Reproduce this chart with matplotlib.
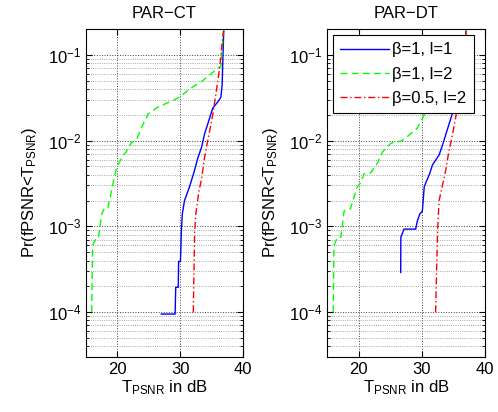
import matplotlib
matplotlib.use('Agg')
import matplotlib.pyplot as plt
from matplotlib.ticker import LogLocator, NullFormatter

plt.rcParams['font.family'] = ['Liberation Sans', 'DejaVu Sans']
plt.rcParams['mathtext.fontset'] = 'custom'
plt.rcParams['mathtext.rm'] = 'Liberation Sans'
plt.rcParams['mathtext.it'] = 'Liberation Sans:italic'

# ── data: PAR-CT ──────────────────────────────────────────────
ct_b1_x = [27.0, 29.2, 29.3, 29.7, 29.76, 30.05, 30.2, 30.35, 30.7, 31.5, 32.3, 32.8,
           33.4, 33.9, 34.4, 35.2, 35.96, 36.5, 36.7, 36.8, 36.95]
ct_b1_y = [9.5e-5, 9.5e-5, 1.95e-4, 1.95e-4, 3.9e-4, 3.9e-4, 8.9e-4, 1.4e-3, 2e-3, 2.9e-3,
           4.5e-3, 6.2e-3, 8.3e-3, 1.2e-2, 1.56e-2, 2.4e-2, 2.8e-2, 3.2e-2, 4.5e-2, 8.5e-2, 0.19]
ct_g_x = [15.9, 16.06, 16.7, 17.0, 17.5, 18.0, 18.5, 19.6, 19.9, 20.9, 21.4, 22.25, 23.0,
          23.8, 24.9, 26.2, 29.9, 31.5, 33.6, 35.5, 36.5, 36.9]
ct_g_y = [1e-4, 6e-4, 7.5e-4, 7.5e-4, 1.4e-3, 1.65e-3, 1.65e-3, 4e-3, 4.9e-3, 6.7e-3, 7.4e-3,
          9.5e-3, 1e-2, 1.4e-2, 2.04e-2, 2.4e-2, 3.2e-2, 4e-2, 5e-2, 6.5e-2, 7.4e-2, 0.19]
ct_r_x = [32.1, 32.3, 32.5, 33.0, 33.4, 33.9, 34.4, 35.2, 35.7, 36.3, 36.8, 36.95]
ct_r_y = [1e-4, 8.3e-4, 1.4e-3, 2.6e-3, 3.5e-3, 6.4e-3, 1e-2, 2e-2, 3.5e-2, 7e-2, 0.165, 0.19]

# ── data: PAR-DT ──────────────────────────────────────────────
dt_b1_x = [26.67, 26.7, 27.2, 29.05, 29.3, 29.7, 30.1, 30.4, 30.7, 31.2, 31.7, 32.75, 33.3,
           33.8, 34.6, 35.5, 36.3, 36.8, 37.0]
dt_b1_y = [2.9e-4, 7.5e-4, 9.3e-4, 9.3e-4, 1.15e-3, 1.4e-3, 1.5e-3, 2.9e-3, 3.3e-3, 4e-3,
           5.2e-3, 6.8e-3, 8.9e-3, 1.17e-2, 1.8e-2, 3e-2, 5e-2, 0.1, 0.19]
dt_g_x = [15.98, 16.1, 16.7, 17.2, 17.7, 18.2, 18.7, 19.8, 20.3, 20.85, 21.9, 23.0, 23.8,
          25.1, 26.9, 28.25, 29.3, 30.4, 33.0, 35.5, 36.8, 37.1]
dt_g_y = [1e-4, 6e-4, 7.5e-4, 7.5e-4, 1.5e-3, 1.6e-3, 1.6e-3, 2.9e-3, 3.2e-3, 4.1e-3, 4.2e-3,
          5.5e-3, 7.4e-3, 9.3e-3, 1e-2, 1.2e-2, 1.4e-2, 2e-2, 3.5e-2, 6e-2, 0.1, 0.19]
dt_r_x = [32.2, 32.5, 32.75, 33.1, 33.8, 34.3, 34.9, 35.4, 36.2, 36.8, 37.0]
dt_r_y = [1e-4, 8.3e-4, 2e-3, 2.6e-3, 4.5e-3, 7.5e-3, 1.2e-2, 1.9e-2, 4e-2, 0.1, 0.19]

labels = ['\u03b2=1, l=1', '\u03b2=1, l=2', '\u03b2=0.5, l=2']
BLUE = '#0000FF'; GREEN = '#00FF00'; RED = '#FF0000'

fig = plt.figure(figsize=(4.98, 4.12), dpi=100, facecolor='white')
ax1 = fig.add_axes([0.1727, 0.1335, 0.315, 0.796])
ax2 = fig.add_axes([0.6566, 0.1335, 0.317, 0.796])

panels = [
    (ax1, 'PAR\u2212CT', (ct_b1_x, ct_b1_y), (ct_g_x, ct_g_y), (ct_r_x, ct_r_y)),
    (ax2, 'PAR\u2212DT', (dt_b1_x, dt_b1_y), (dt_g_x, dt_g_y), (dt_r_x, dt_r_y)),
]

for ax, title, b, g, r in panels:
    ax.semilogy(b[0], b[1], color=BLUE, lw=1.0, ls='-', label=labels[0])
    ax.semilogy(g[0], g[1], color=GREEN, lw=1.0, ls=(0, (5, 3)), label=labels[1])
    ax.semilogy(r[0], r[1], color=RED, lw=1.0, ls=(0, (5, 2, 1, 2)), label=labels[2])
    ax.set_xlim(15, 40)
    ax.set_ylim(3e-5, 0.2)
    ax.set_xticks([20, 30, 40])
    ax.yaxis.set_major_locator(LogLocator(base=10, numticks=10))
    ax.yaxis.set_minor_locator(LogLocator(base=10, subs=range(2, 10), numticks=20))
    ax.yaxis.set_minor_formatter(NullFormatter())
    ax.tick_params(which='both', direction='in', top=True, right=True, labelsize=12)
    ax.tick_params(which='major', length=4)
    ax.tick_params(which='minor', length=2)
    ax.grid(True, which='major', ls=':', color='0.25', lw=0.7)
    ax.grid(True, which='minor', axis='y', ls=':', color='0.55', lw=0.6)
    for s in ax.spines.values():
        s.set_linewidth(0.8)
    ax.set_title(title, fontsize=12, pad=8)
    ax.set_xlabel(r'T$_{\mathregular{PSNR}}$ in dB', fontsize=12, labelpad=1)
    ax.set_ylabel(r'Pr(fPSNR<T$_{\mathregular{PSNR}}$)', fontsize=12, labelpad=6)

leg = ax2.legend(loc='upper left', fontsize=12, fancybox=False, edgecolor='black',
                 framealpha=1, handlelength=2.9, borderaxespad=0.35, borderpad=0.45,
                 labelspacing=0.55, handletextpad=0.2)
leg.get_frame().set_linewidth(0.8)

fig.savefig('out.png', dpi=100, facecolor='white')
